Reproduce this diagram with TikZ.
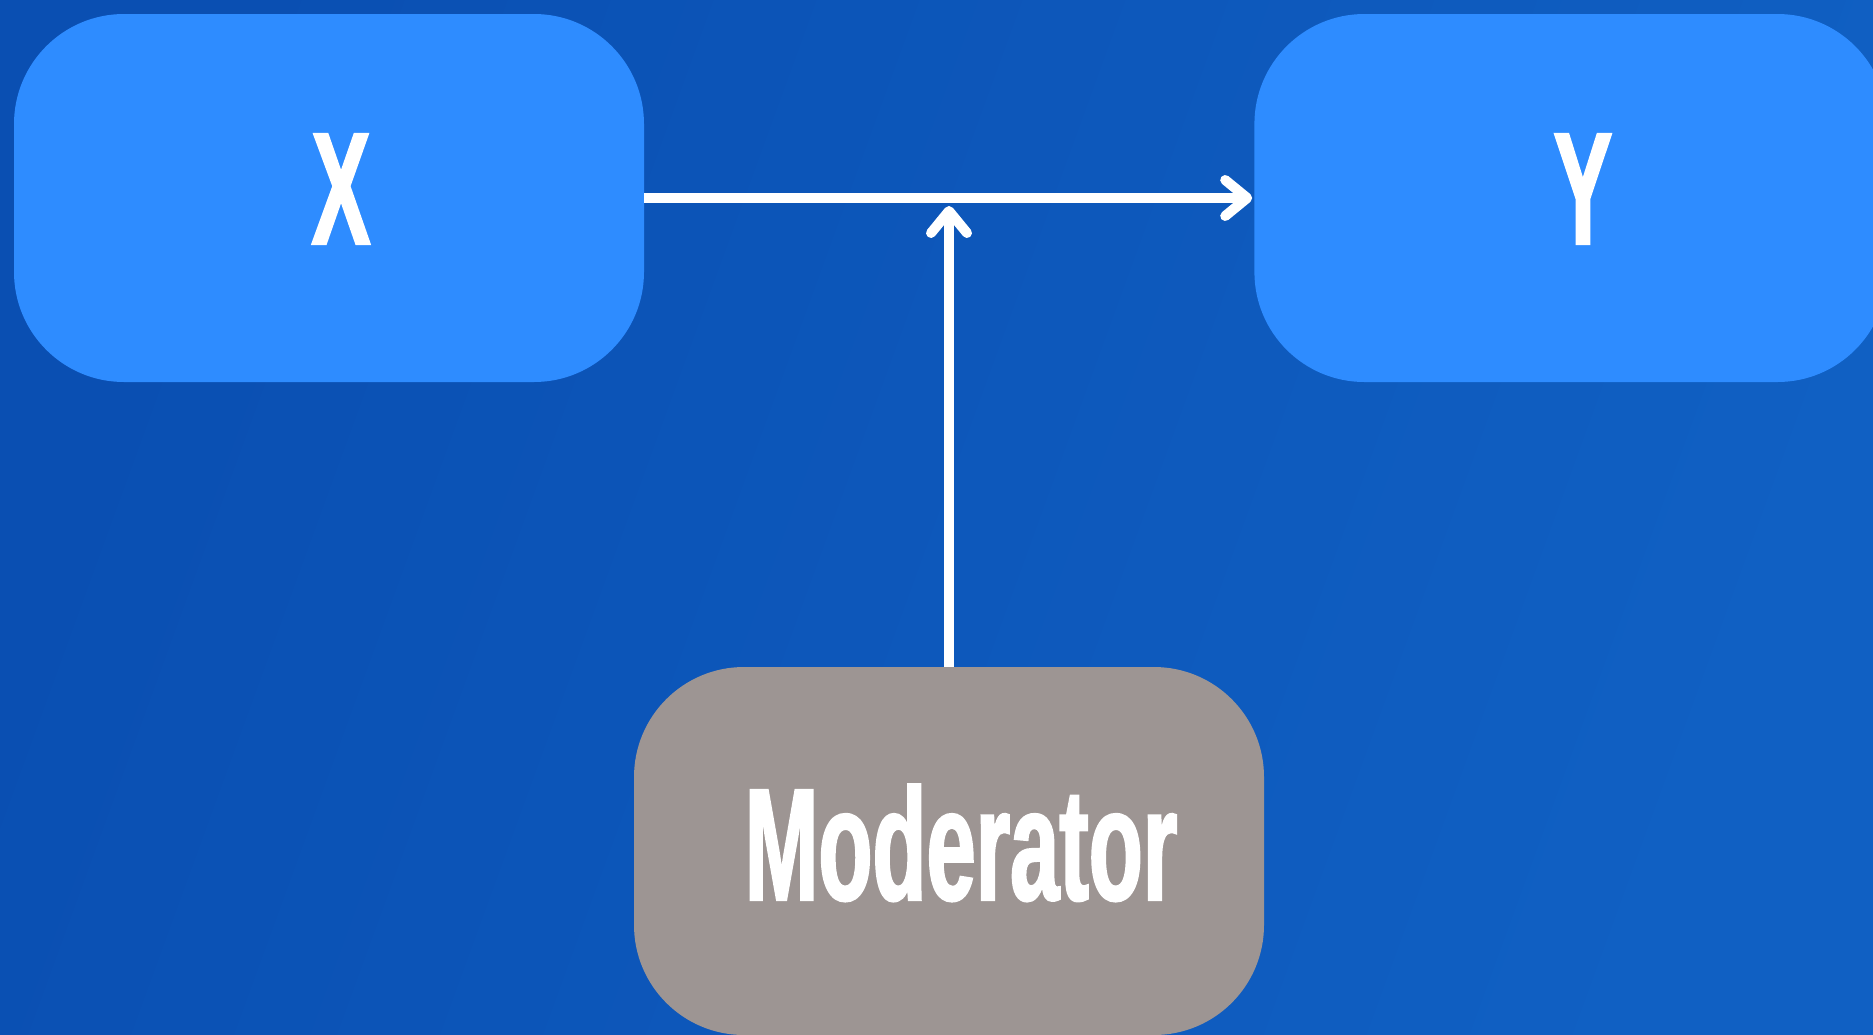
\documentclass[tikz,border=0pt]{standalone}
\usepackage{fontspec}
\newfontfamily\condfont[FakeStretch=0.553, FakeBold=1.3]{Liberation Sans Bold}
\usetikzlibrary{positioning, arrows.meta}

\definecolor{bgdark}{HTML}{0A4FB2}
\definecolor{bglight}{HTML}{1060C3}
\definecolor{varblue}{HTML}{2E8CFF}
\definecolor{modgray}{HTML}{9D9593}

\begin{document}
\begin{tikzpicture}[
        x=1pt, y=-1pt,
        node distance=285pt and 610pt,
        varbox/.style={rectangle, fill=varblue, inner sep=0pt, minimum width=630pt, minimum height=368pt, rounded corners=110pt, text depth=18pt, text=white, font=\condfont\fontsize{160}{180}\selectfont, execute at begin node=\hspace*{24pt}},
        line/.style={draw=white, line width=10pt, -{Straight Barb[length=22pt, width=36pt, round]}}
    ]
        \useasboundingbox (0,0) rectangle (1873,1034);
        \clip (0,0) rectangle (1873,1034);
        \shade[left color=bgdark, right color=bglight, shading angle=70] (0,0) rectangle (1873,1034);

        % Nodes
        \node [varbox] (x) at (329,198) {X};
        \node [varbox, right=of x, minimum width=633pt] (y) {Y};
        \node [varbox, fill=modgray] (mod) at (949,851) {Moderator};

        % Edges
        \path [line, shorten >=2pt] (x.east) -- coordinate[midway] (m) (y.west);
        \path [line, shorten >=8pt] (mod.north) -- (mod.north |- m);
    \end{tikzpicture}
\end{document}
